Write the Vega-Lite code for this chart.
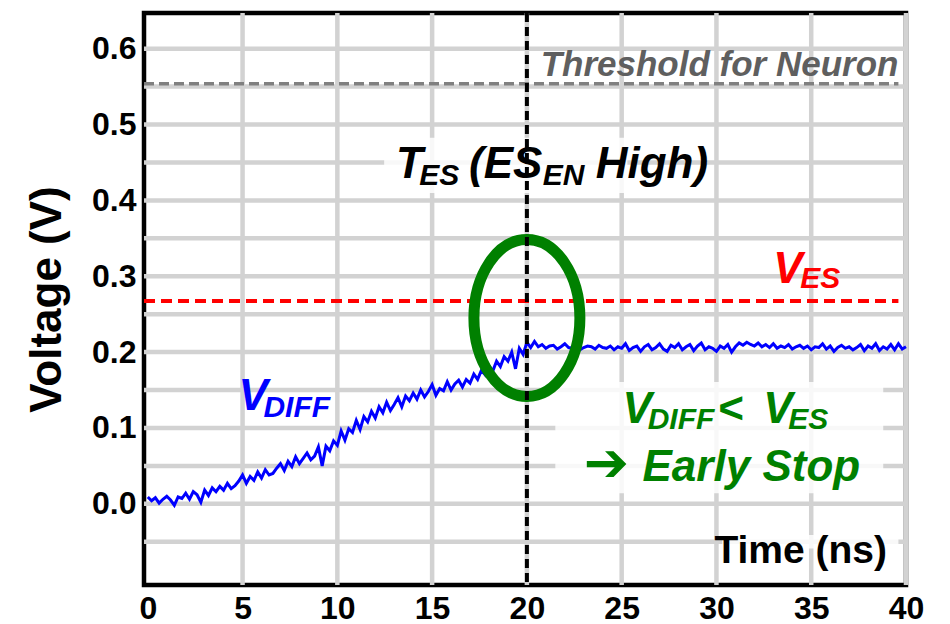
{
  "$schema": "https://vega.github.io/schema/vega-lite/v6.json",
  "width": 762,
  "height": 572,
  "autosize": {"type": "none"},
  "padding": {"left": 144, "top": 13, "right": 44, "bottom": 39},
  "background": "white",
  "config": {
    "font": "Liberation Sans",
    "view": {"stroke": "black", "strokeWidth": 4.5},
    "axis": {
      "grid": false,
      "ticks": false,
      "domain": false,
      "labelFont": "Liberation Sans",
      "labelFontSize": 32,
      "labelFontWeight": "bold",
      "labelColor": "black",
      "labelOverlap": false,
      "labelFlush": false
    }
  },
  "datasets": {
    "vgrid": [{"g": 5}, {"g": 10}, {"g": 15}, {"g": 20}, {"g": 25}, {"g": 30}, {"g": 35}, {"g": 40}],
    "hgrid": [{"g": -0.05}, {"g": 0}, {"g": 0.05}, {"g": 0.1}, {"g": 0.15}, {"g": 0.2}, {"g": 0.25}, {"g": 0.3}, {"g": 0.35}, {"g": 0.4}, {"g": 0.45}, {"g": 0.5}, {"g": 0.55}, {"g": 0.6}],
    "curve": [
      {"t": 0.0, "v": 0.009}, {"t": 0.2, "v": 0.004}, {"t": 0.4, "v": 0.008}, {"t": 0.6, "v": 0.001}, {"t": 0.8, "v": 0.006},
      {"t": 1.0, "v": 0.010}, {"t": 1.2, "v": 0.005}, {"t": 1.4, "v": -0.002}, {"t": 1.6, "v": 0.009}, {"t": 1.8, "v": 0.007},
      {"t": 2.0, "v": 0.014}, {"t": 2.2, "v": 0.006}, {"t": 2.4, "v": 0.016}, {"t": 2.6, "v": 0.012}, {"t": 2.8, "v": 0.002},
      {"t": 3.0, "v": 0.018}, {"t": 3.2, "v": 0.011}, {"t": 3.4, "v": 0.021}, {"t": 3.6, "v": 0.016}, {"t": 3.8, "v": 0.023},
      {"t": 4.0, "v": 0.018}, {"t": 4.2, "v": 0.027}, {"t": 4.4, "v": 0.020}, {"t": 4.6, "v": 0.024}, {"t": 4.8, "v": 0.030},
      {"t": 5.0, "v": 0.038}, {"t": 5.2, "v": 0.027}, {"t": 5.4, "v": 0.036}, {"t": 5.6, "v": 0.031}, {"t": 5.8, "v": 0.042},
      {"t": 6.0, "v": 0.034}, {"t": 6.2, "v": 0.045}, {"t": 6.4, "v": 0.038}, {"t": 6.6, "v": 0.040}, {"t": 6.8, "v": 0.047},
      {"t": 7.0, "v": 0.053}, {"t": 7.2, "v": 0.044}, {"t": 7.4, "v": 0.056}, {"t": 7.6, "v": 0.049}, {"t": 7.8, "v": 0.062},
      {"t": 8.0, "v": 0.053}, {"t": 8.2, "v": 0.060}, {"t": 8.4, "v": 0.067}, {"t": 8.6, "v": 0.058}, {"t": 8.8, "v": 0.063},
      {"t": 9.0, "v": 0.075}, {"t": 9.2, "v": 0.050}, {"t": 9.4, "v": 0.076}, {"t": 9.6, "v": 0.070}, {"t": 9.8, "v": 0.083},
      {"t": 10.0, "v": 0.077}, {"t": 10.2, "v": 0.096}, {"t": 10.4, "v": 0.084}, {"t": 10.6, "v": 0.099}, {"t": 10.8, "v": 0.094},
      {"t": 11.0, "v": 0.110}, {"t": 11.2, "v": 0.098}, {"t": 11.4, "v": 0.115}, {"t": 11.6, "v": 0.108}, {"t": 11.8, "v": 0.122},
      {"t": 12.0, "v": 0.113}, {"t": 12.2, "v": 0.128}, {"t": 12.4, "v": 0.120}, {"t": 12.6, "v": 0.134}, {"t": 12.8, "v": 0.123},
      {"t": 13.0, "v": 0.131}, {"t": 13.2, "v": 0.140}, {"t": 13.4, "v": 0.128}, {"t": 13.6, "v": 0.142}, {"t": 13.8, "v": 0.136},
      {"t": 14.0, "v": 0.146}, {"t": 14.2, "v": 0.138}, {"t": 14.4, "v": 0.150}, {"t": 14.6, "v": 0.141}, {"t": 14.8, "v": 0.148},
      {"t": 15.0, "v": 0.157}, {"t": 15.2, "v": 0.143}, {"t": 15.4, "v": 0.152}, {"t": 15.6, "v": 0.149}, {"t": 15.8, "v": 0.161},
      {"t": 16.0, "v": 0.150}, {"t": 16.2, "v": 0.158}, {"t": 16.4, "v": 0.163}, {"t": 16.6, "v": 0.154}, {"t": 16.8, "v": 0.164},
      {"t": 17.0, "v": 0.159}, {"t": 17.2, "v": 0.171}, {"t": 17.4, "v": 0.164}, {"t": 17.6, "v": 0.176}, {"t": 17.8, "v": 0.170},
      {"t": 18.0, "v": 0.182}, {"t": 18.2, "v": 0.175}, {"t": 18.4, "v": 0.188}, {"t": 18.6, "v": 0.181}, {"t": 18.8, "v": 0.194},
      {"t": 19.0, "v": 0.188}, {"t": 19.2, "v": 0.200}, {"t": 19.4, "v": 0.178}, {"t": 19.6, "v": 0.205}, {"t": 19.8, "v": 0.197},
      {"t": 20.0, "v": 0.213}, {"t": 20.2, "v": 0.206}, {"t": 20.4, "v": 0.214}, {"t": 20.6, "v": 0.207}, {"t": 20.8, "v": 0.210},
      {"t": 21.0, "v": 0.205}, {"t": 21.2, "v": 0.208}, {"t": 21.4, "v": 0.209}, {"t": 21.6, "v": 0.204}, {"t": 21.8, "v": 0.207},
      {"t": 22.0, "v": 0.211}, {"t": 22.2, "v": 0.206}, {"t": 22.4, "v": 0.205}, {"t": 22.6, "v": 0.209}, {"t": 22.8, "v": 0.203},
      {"t": 23.0, "v": 0.206}, {"t": 23.2, "v": 0.208}, {"t": 23.4, "v": 0.207}, {"t": 23.6, "v": 0.204}, {"t": 23.8, "v": 0.209},
      {"t": 24.0, "v": 0.206}, {"t": 24.2, "v": 0.205}, {"t": 24.4, "v": 0.208}, {"t": 24.6, "v": 0.203}, {"t": 24.8, "v": 0.207},
      {"t": 25.0, "v": 0.205}, {"t": 25.2, "v": 0.211}, {"t": 25.4, "v": 0.202}, {"t": 25.6, "v": 0.206}, {"t": 25.8, "v": 0.208},
      {"t": 26.0, "v": 0.201}, {"t": 26.2, "v": 0.207}, {"t": 26.4, "v": 0.210}, {"t": 26.6, "v": 0.203}, {"t": 26.8, "v": 0.206},
      {"t": 27.0, "v": 0.211}, {"t": 27.2, "v": 0.204}, {"t": 27.4, "v": 0.201}, {"t": 27.6, "v": 0.209}, {"t": 27.8, "v": 0.206},
      {"t": 28.0, "v": 0.211}, {"t": 28.2, "v": 0.203}, {"t": 28.4, "v": 0.207}, {"t": 28.6, "v": 0.210}, {"t": 28.8, "v": 0.202},
      {"t": 29.0, "v": 0.208}, {"t": 29.2, "v": 0.212}, {"t": 29.4, "v": 0.203}, {"t": 29.6, "v": 0.207}, {"t": 29.8, "v": 0.205},
      {"t": 30.0, "v": 0.201}, {"t": 30.2, "v": 0.208}, {"t": 30.4, "v": 0.205}, {"t": 30.6, "v": 0.210}, {"t": 30.8, "v": 0.200},
      {"t": 31.0, "v": 0.207}, {"t": 31.2, "v": 0.212}, {"t": 31.4, "v": 0.209}, {"t": 31.6, "v": 0.213}, {"t": 31.8, "v": 0.210},
      {"t": 32.0, "v": 0.208}, {"t": 32.2, "v": 0.212}, {"t": 32.4, "v": 0.207}, {"t": 32.6, "v": 0.210}, {"t": 32.8, "v": 0.206},
      {"t": 33.0, "v": 0.211}, {"t": 33.2, "v": 0.205}, {"t": 33.4, "v": 0.208}, {"t": 33.6, "v": 0.206}, {"t": 33.8, "v": 0.210},
      {"t": 34.0, "v": 0.204}, {"t": 34.2, "v": 0.207}, {"t": 34.4, "v": 0.209}, {"t": 34.6, "v": 0.205}, {"t": 34.8, "v": 0.208},
      {"t": 35.0, "v": 0.203}, {"t": 35.2, "v": 0.207}, {"t": 35.4, "v": 0.206}, {"t": 35.6, "v": 0.211}, {"t": 35.8, "v": 0.204},
      {"t": 36.0, "v": 0.208}, {"t": 36.2, "v": 0.201}, {"t": 36.4, "v": 0.206}, {"t": 36.6, "v": 0.209}, {"t": 36.8, "v": 0.205},
      {"t": 37.0, "v": 0.207}, {"t": 37.2, "v": 0.203}, {"t": 37.4, "v": 0.206}, {"t": 37.6, "v": 0.210}, {"t": 37.8, "v": 0.202},
      {"t": 38.0, "v": 0.208}, {"t": 38.2, "v": 0.205}, {"t": 38.4, "v": 0.211}, {"t": 38.6, "v": 0.202}, {"t": 38.8, "v": 0.207},
      {"t": 39.0, "v": 0.204}, {"t": 39.2, "v": 0.210}, {"t": 39.4, "v": 0.203}, {"t": 39.6, "v": 0.211}, {"t": 39.8, "v": 0.204},
      {"t": 40.0, "v": 0.207}
    ]
  },
  "layer": [
    {
      "data": {"name": "vgrid"},
      "mark": {"type": "rule", "color": "#d2d2d2", "strokeWidth": 4.5},
      "encoding": {
        "x": {"field": "g", "type": "quantitative",
              "scale": {"domain": [-0.2, 40], "nice": false, "zero": false},
              "axis": {"values": [0, 5, 10, 15, 20, 25, 30, 35, 40], "title": null, "labelPadding": 8}}
      }
    },
    {
      "data": {"name": "hgrid"},
      "mark": {"type": "rule", "color": "#d2d2d2", "strokeWidth": 4.5},
      "encoding": {
        "y": {"field": "g", "type": "quantitative",
              "scale": {"domain": [-0.107, 0.647], "nice": false, "zero": false},
              "axis": {"values": [0, 0.1, 0.2, 0.3, 0.4, 0.5, 0.6],
                       "format": ".1f",
                       "title": "Voltage (V)", "titleFontSize": 44, "titleFontWeight": "bold", "titleColor": "black",
                       "titleFont": "Liberation Sans", "titlePadding": 22, "labelPadding": 8}}
      }
    },
    {
      "data": {"values": [
        {"t": 12.47, "t2": 25.3, "v": 0.4824, "v2": 0.4096, "box": "tes"},
        {"t": 21.5, "t2": 38.8, "v": 0.1606, "v2": 0.0141, "box": "earlystop"},
        {"t": 30.3, "t2": 39.6, "v": -0.041, "v2": -0.059, "box": "time"}
      ]},
      "mark": {"type": "rect", "fill": "white", "opacity": 0.85},
      "encoding": {
        "x": {"field": "t", "type": "quantitative"},
        "x2": {"field": "t2"},
        "y": {"field": "v", "type": "quantitative"},
        "y2": {"field": "v2"}
      }
    },
    {
      "data": {"name": "curve"},
      "mark": {"type": "line", "color": "#0000ff", "strokeWidth": 3, "interpolate": "linear"},
      "encoding": {
        "x": {"field": "t", "type": "quantitative"},
        "y": {"field": "v", "type": "quantitative"}
      }
    },
    {
      "data": {"values": [{"level": 0.2674, "from": -0.2, "to": 39.6}]},
      "mark": {"type": "rule", "color": "#ff0000", "strokeWidth": 4, "strokeDash": [11, 6]},
      "encoding": {
        "y": {"field": "level", "type": "quantitative"},
        "x": {"field": "from", "type": "quantitative"},
        "x2": {"field": "to"}
      }
    },
    {
      "data": {"values": [{"level": 0.5537, "from": -0.2, "to": 39.6}]},
      "mark": {"type": "rule", "color": "#808080", "strokeWidth": 3.5, "strokeDash": [10, 5]},
      "encoding": {
        "y": {"field": "level", "type": "quantitative"},
        "x": {"field": "from", "type": "quantitative"},
        "x2": {"field": "to"}
      }
    },
    {
      "data": {"values": [{"t": 20.0, "v": 0.245}]},
      "mark": {"type": "point", "filled": false, "stroke": "#008000", "strokeWidth": 11, "opacity": 1, "size": 24649,
               "shape": "M 0 -1 C 0.3728 -1 0.675 -0.5523 0.675 0 C 0.675 0.5523 0.3728 1 0 1 C -0.3728 1 -0.675 0.5523 -0.675 0 C -0.675 -0.5523 -0.3728 -1 0 -1 Z"},
      "encoding": {
        "x": {"field": "t", "type": "quantitative"},
        "y": {"field": "v", "type": "quantitative"}
      }
    },
    {
      "data": {"values": [{"t": 20}]},
      "mark": {"type": "rule", "color": "black", "strokeWidth": 4, "strokeDash": [9, 5]},
      "encoding": {
        "x": {"field": "t", "type": "quantitative"}
      }
    },
    {
      "data": {"values": [{"label": "Threshold for Neuron", "t": 39.6, "v": 0.564}]},
      "mark": {"type": "text", "align": "right", "baseline": "alphabetic", "fontSize": 35, "fontWeight": "bold", "fontStyle": "italic", "color": "#5f5f5f"},
      "encoding": {
        "x": {"field": "t", "type": "quantitative"},
        "y": {"field": "v", "type": "quantitative"},
        "text": {"field": "label"}
      }
    },
    {
      "data": {"values": [
        {"label": "T", "t": 13.1, "v": 0.4297},
        {"label": "(ES", "t": 16.95, "v": 0.4297},
        {"label": "High)", "t": 23.63, "v": 0.4297}
      ]},
      "mark": {"type": "text", "align": "left", "baseline": "alphabetic", "fontSize": 44, "fontWeight": "bold", "fontStyle": "italic", "color": "black"},
      "encoding": {
        "x": {"field": "t", "type": "quantitative"},
        "y": {"field": "v", "type": "quantitative"},
        "text": {"field": "label"}
      }
    },
    {
      "data": {"values": [
        {"label": "ES", "t": 14.32, "v": 0.4205},
        {"label": "EN", "t": 20.84, "v": 0.4205}
      ]},
      "mark": {"type": "text", "align": "left", "baseline": "alphabetic", "fontSize": 30, "fontWeight": "bold", "fontStyle": "italic", "color": "black"},
      "encoding": {
        "x": {"field": "t", "type": "quantitative"},
        "y": {"field": "v", "type": "quantitative"},
        "text": {"field": "label"}
      }
    },
    {
      "data": {"values": [{"label": "V", "t": 33.0, "v": 0.2912}]},
      "mark": {"type": "text", "align": "left", "baseline": "alphabetic", "fontSize": 44, "fontWeight": "bold", "fontStyle": "italic", "color": "#ff0000"},
      "encoding": {
        "x": {"field": "t", "type": "quantitative"},
        "y": {"field": "v", "type": "quantitative"},
        "text": {"field": "label"}
      }
    },
    {
      "data": {"values": [{"label": "ES", "t": 34.42, "v": 0.2846}]},
      "mark": {"type": "text", "align": "left", "baseline": "alphabetic", "fontSize": 30, "fontWeight": "bold", "fontStyle": "italic", "color": "#ff0000"},
      "encoding": {
        "x": {"field": "t", "type": "quantitative"},
        "y": {"field": "v", "type": "quantitative"},
        "text": {"field": "label"}
      }
    },
    {
      "data": {"values": [{"label": "V", "t": 4.79, "v": 0.1236}]},
      "mark": {"type": "text", "align": "left", "baseline": "alphabetic", "fontSize": 44, "fontWeight": "bold", "fontStyle": "italic", "color": "#0000ff"},
      "encoding": {
        "x": {"field": "t", "type": "quantitative"},
        "y": {"field": "v", "type": "quantitative"},
        "text": {"field": "label"}
      }
    },
    {
      "data": {"values": [{"label": "DIFF", "t": 6.1, "v": 0.1144}]},
      "mark": {"type": "text", "align": "left", "baseline": "alphabetic", "fontSize": 30, "fontWeight": "bold", "fontStyle": "italic", "color": "#0000ff"},
      "encoding": {
        "x": {"field": "t", "type": "quantitative"},
        "y": {"field": "v", "type": "quantitative"},
        "text": {"field": "label"}
      }
    },
    {
      "data": {"values": [
        {"label": "V", "t": 25.05, "v": 0.1065},
        {"label": "<", "t": 30.05, "v": 0.1065},
        {"label": "V", "t": 32.47, "v": 0.1065},
        {"label": "Early Stop", "t": 26.1, "v": 0.0299}
      ]},
      "mark": {"type": "text", "align": "left", "baseline": "alphabetic", "fontSize": 44, "fontWeight": "bold", "fontStyle": "italic", "color": "#008000"},
      "encoding": {
        "x": {"field": "t", "type": "quantitative"},
        "y": {"field": "v", "type": "quantitative"},
        "text": {"field": "label"}
      }
    },
    {
      "data": {"values": [
        {"label": "DIFF", "t": 26.37, "v": 0.0986},
        {"label": "ES", "t": 33.79, "v": 0.0986}
      ]},
      "mark": {"type": "text", "align": "left", "baseline": "alphabetic", "fontSize": 30, "fontWeight": "bold", "fontStyle": "italic", "color": "#008000"},
      "encoding": {
        "x": {"field": "t", "type": "quantitative"},
        "y": {"field": "v", "type": "quantitative"},
        "text": {"field": "label"}
      }
    },
    {
      "data": {"values": [{"label": "➔", "t": 23.0, "v": 0.0299}]},
      "mark": {"type": "text", "align": "left", "baseline": "alphabetic", "font": "DejaVu Sans", "fontSize": 54, "fontWeight": "bold", "color": "#008000"},
      "encoding": {
        "x": {"field": "t", "type": "quantitative"},
        "y": {"field": "v", "type": "quantitative"},
        "text": {"field": "label"}
      }
    },
    {
      "data": {"values": [{"label": "Time (ns)", "t": 39.0, "v": -0.0785}]},
      "mark": {"type": "text", "align": "right", "baseline": "alphabetic", "fontSize": 39, "fontWeight": "bold", "color": "black"},
      "encoding": {
        "x": {"field": "t", "type": "quantitative"},
        "y": {"field": "v", "type": "quantitative"},
        "text": {"field": "label"}
      }
    }
  ]
}
